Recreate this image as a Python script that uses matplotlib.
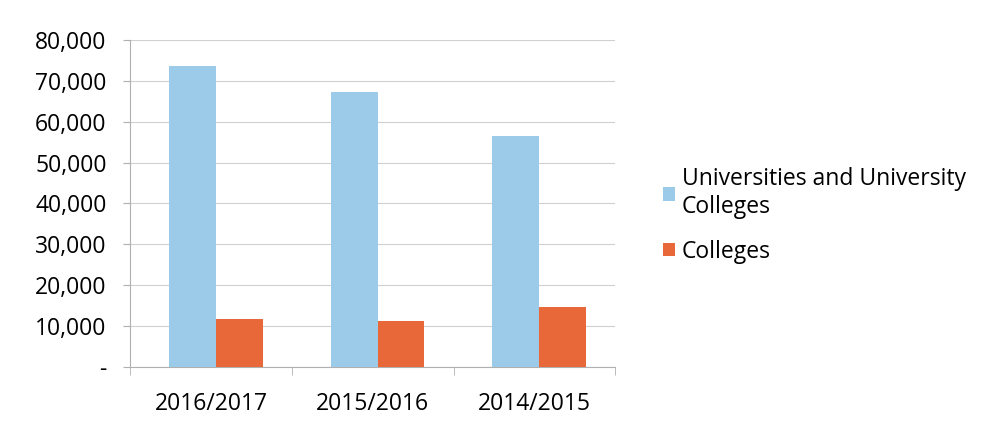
import numpy as np
import matplotlib.pyplot as plt
from matplotlib.ticker import FuncFormatter

plt.rcParams['font.family'] = ['Open Sans', 'DejaVu Sans']

years = ['2016/2017', '2015/2016', '2014/2015']
universities = [73700, 67300, 56500]
colleges = [11700, 11300, 14800]

fig = plt.figure(figsize=(9.86, 4.38), dpi=100)
ax = fig.add_axes([0.132, 0.162, 0.492, 0.747])

x = np.arange(len(years))
w = 0.29
ax.bar(x - w / 2 + 0.03, universities, w, color='#9ccbea', label='Universities and University\nColleges', zorder=3)
ax.bar(x + w / 2 + 0.03, colleges, w, color='#e8683a', label='Colleges', zorder=3)

ax.set_xlim(-0.5, len(years) - 0.5)
ax.set_ylim(0, 80000)
ax.set_yticks(np.arange(0, 80001, 10000))
ax.yaxis.set_major_formatter(FuncFormatter(lambda v, p: '-' if v == 0 else '{:,.0f}'.format(v)))
ax.set_xticks(x)
ax.set_xticklabels(years)
ax.set_xticks(np.arange(-0.5, len(years)), minor=True)
ax.tick_params(axis='x', which='major', length=0, pad=18, labelsize=16.5)
ax.tick_params(axis='x', which='minor', length=6, color='#b0b0b0')
ax.tick_params(axis='y', length=5, color='#b0b0b0', labelsize=16.5, pad=12)
ax.grid(axis='y', color='#d0d0d0', linewidth=0.8, zorder=0)

for s in ['top', 'right']:
    ax.spines[s].set_visible(False)
for s in ['left', 'bottom']:
    ax.spines[s].set_color('#b0b0b0')

fig.legend(loc='upper left', bbox_to_anchor=(0.652, 0.665), frameon=False, fontsize=16.5,
           handlelength=0.5, handleheight=0.5, handletextpad=0.3, labelspacing=0.9)

fig.savefig('out.png', dpi=100)
